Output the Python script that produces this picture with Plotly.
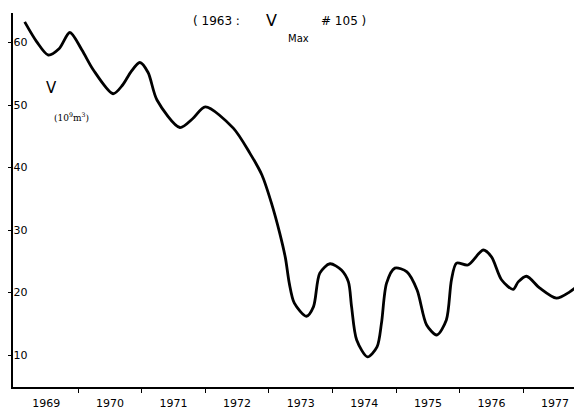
import plotly.graph_objects as go

# Reservoir volume V (10^9 m^3) vs time (decimal years)
years = [1969.16, 1969.35, 1969.53, 1969.70, 1969.87, 1970.06, 1970.24, 1970.55, 1970.70,
         1970.83, 1970.97, 1971.10, 1971.24, 1971.60, 1971.80, 1972.00, 1972.44, 1972.70,
         1972.89, 1973.04, 1973.17, 1973.26, 1973.32, 1973.40, 1973.59,
         1973.70, 1973.80, 1973.96, 1974.14, 1974.25, 1974.30, 1974.38, 1974.55, 1974.70,
         1974.77, 1974.85, 1974.98, 1975.17, 1975.33, 1975.48, 1975.64, 1975.79, 1975.87,
         1975.95, 1976.13, 1976.37, 1976.50, 1976.66, 1976.84, 1976.92, 1977.05, 1977.26,
         1977.52, 1977.73, 1977.92]
volume = [63.3, 60.1, 58.0, 59.0, 61.6, 58.8, 55.6, 51.8, 53.2,
          55.3, 56.8, 55.2, 50.8, 46.4, 47.8, 49.7, 46.3, 42.3,
          38.8, 34.3, 29.5, 25.5, 21.5, 18.3, 16.2,
          17.7, 23.1, 24.6, 23.6, 21.7, 17.7, 12.4, 9.7, 11.3,
          15.1, 21.5, 23.9, 23.3, 20.4, 14.8, 13.2, 15.6, 22.0,
          24.7, 24.4, 26.8, 25.7, 22.0, 20.5, 21.7, 22.6, 20.7,
          19.1, 20.1, 21.6]

y_ticks = [10, 20, 30, 40, 50, 60]
year_labels = ["1969", "1970", "1971", "1972", "1973", "1974", "1975", "1976", "1977"]
label_pos = [1969.5, 1970.5, 1971.5, 1972.5, 1973.5, 1974.5, 1975.5, 1976.5, 1977.5]
year_bounds = [1970, 1971, 1972, 1973, 1974, 1975, 1976, 1977]

fig = go.Figure()
fig.add_trace(go.Scatter(x=years, y=volume, mode="lines",
                         line=dict(color="black", width=2.8, shape="spline", smoothing=0.8),
                         hoverinfo="skip", showlegend=False))

font_main = "DejaVu Sans"
# page body has an 8px default margin, so the figure is sized 8px smaller
fig.update_layout(
    width=574, height=401,
    margin=dict(l=5, r=0, t=5, b=22),
    paper_bgcolor="white", plot_bgcolor="white",
    xaxis=dict(range=[1968.976, 1977.923], showgrid=False, zeroline=False,
               showline=True, linecolor="black", linewidth=1.5,
               tickmode="array", tickvals=label_pos, ticktext=year_labels,
               ticks="", ticklabelstandoff=5,
               tickfont=dict(family=font_main, size=11, color="black"),
               minor=dict(tickmode="array", tickvals=year_bounds, ticks="outside",
                          ticklen=4, tickwidth=1, tickcolor="black", showgrid=False)),
    yaxis=dict(range=[4.88, 64.72], showgrid=False, zeroline=False,
               showline=True, linecolor="black", linewidth=1.5,
               tickmode="array", tickvals=y_ticks, ticks="outside", ticklen=5,
               tickcolor="black", ticklabelposition="inside",
               tickfont=dict(family=font_main, size=11, color="black")),
)

anns = [
    dict(text="( 1963 :", x=0.357, y=0.979, font=dict(size=12)),
    dict(text="V", x=0.455, y=0.981, font=dict(size=16)),
    dict(text="Max", x=0.501, y=0.933, font=dict(size=10)),
    dict(text="# 105 )", x=0.580, y=0.979, font=dict(size=12)),
    dict(text="V", x=0.067, y=0.799, font=dict(size=15)),
    dict(text="(10<sup>9</sup>m<sup>3</sup>)", x=0.102, y=0.722,
         font=dict(size=9, family="DejaVu Serif")),
]
for a in anns:
    f = dict(family=font_main, color="black")
    f.update(a.pop("font"))
    fig.add_annotation(xref="paper", yref="paper", showarrow=False,
                       xanchor="center", yanchor="middle", font=f, **a)

fig.write_html("out.html")
